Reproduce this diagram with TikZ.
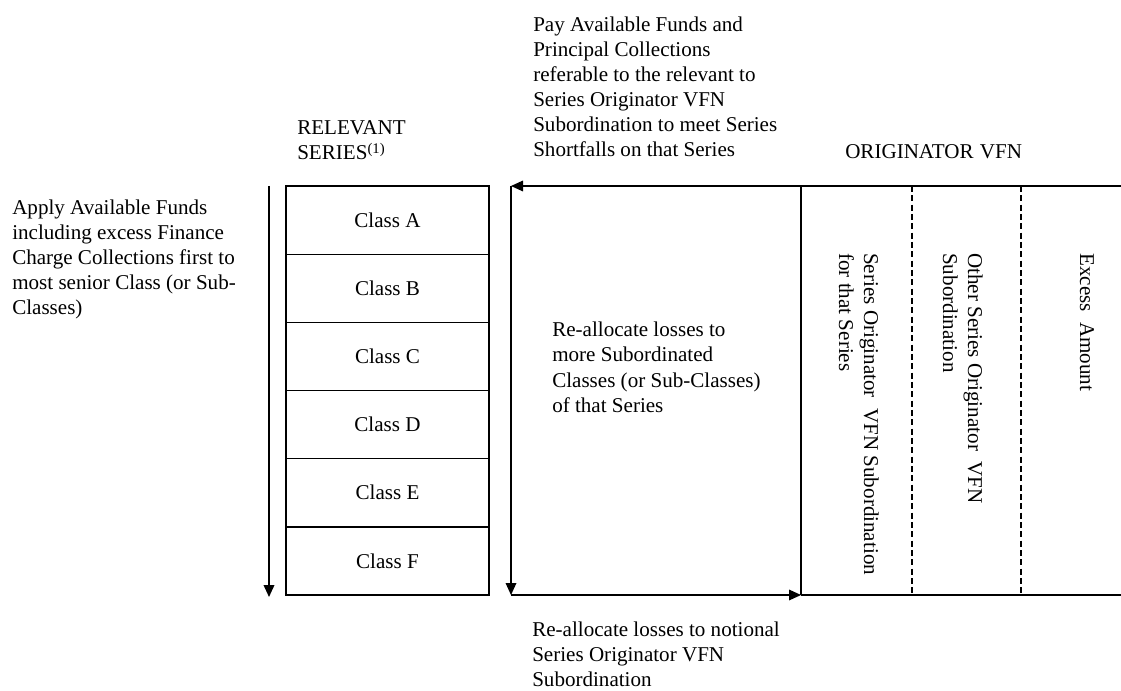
\documentclass[tikz,border=0pt]{standalone}
\usepackage{fontspec}
\setmainfont{Liberation Serif}
\usetikzlibrary{arrows.meta}
\begin{document}
\begin{tikzpicture}[x=0.75pt,y=-0.75pt,
  every node/.style={font=\fontsize{15.8}{18.75}\selectfont},
  txt/.style={anchor=base west, align=left, inner sep=0pt},
  classbox/.style={draw, line width=0.8pt, minimum width=152.25pt, minimum height=51.125pt, inner sep=0pt, outer sep=0pt},
  tip/.style={-{Triangle[length=9pt,width=8pt]}},
  arr/.style={line width=0.9pt, tip},
  ln/.style={line width=0.9pt},
  dsh/.style={line width=0.8pt, dash pattern=on 4.5pt off 2.5pt},
  rot/.style={rotate=-90, anchor=base west, align=left, inner sep=0pt}]
\useasboundingbox (0,0) rectangle (1121,691);

% class boxes
\node[classbox] (cA) at (387.5,220.08) {Class A};
\node[classbox] (cB) at (387.5,288.25) {Class B};
\node[classbox] (cC) at (387.5,356.42) {Class C};
\node[classbox] (cD) at (387.5,424.58) {Class D};
\node[classbox] (cE) at (387.5,492.75) {Class E};
\node[classbox] (cF) at (387.5,560.92) {Class F};
\draw[line width=1.3pt] (cE.south west) -- (cE.south east);

% left arrow
\coordinate (LAt) at (269,186);
\coordinate (LAb) at (269,597);
\draw[line width=1.2pt, tip] (LAt) -- (LAb);

% frame of the right part
\coordinate (TR) at (1121,186);
\coordinate (TL) at (511,186);
\coordinate (BL) at (511,595);
\coordinate (BM) at (801,595);
\coordinate (TM) at (801,186);
\coordinate (BR) at (1121,595);
\coordinate (D1t) at (912,186);
\coordinate (D1b) at (912,595);
\coordinate (D2t) at (1021,186);
\coordinate (D2b) at (1021,595);
\draw[arr] (TR) -- (TL);
\draw[arr] (TL) -- (BL);
\draw[arr] (BL) -- (BM);
\draw[ln] (TM) -- (BM);
\draw[ln] (BM) -- (BR);
\draw[dsh] (D1t) -- (D1b);
\draw[dsh] (D2t) -- (D2b);

% texts
\node[txt] (pay) at (533,157) {Pay Available Funds and\\Principal Collections\\referable to the relevant to\\Series Originator VFN\\Subordination to meet Series\\Shortfalls on that Series};
\node[txt] (rel) at (297,160) {RELEVANT\\SERIES\textsuperscript{(1)}};
\node[txt] (orig) at (845,159) {ORIGINATOR\hspace{0.3em}VFN};
\node[txt] (apply) at (12,315) {Apply Available Funds\\including excess Finance\\Charge Collections first to\\most senior Class (or Sub-\\Classes)};
\node[txt] (realloc) at (552,412) {Re-allocate losses to\\more Subordinated\\Classes (or Sub-Classes)\\of that Series};
\node[txt] (notional) at (532,686) {Re-allocate losses to notional\\Series Originator VFN\\Subordination};

\node[rot] (sovs) at (839,253) {Series Originator\ \ VFN Subordination\\for that Series};
\node[rot] (osov) at (943,253) {Other Series Originator\ \ VFN\\Subordination};
\node[rot] (excess) at (1080,253) {Excess\ \ Amount};
\end{tikzpicture}
\end{document}
